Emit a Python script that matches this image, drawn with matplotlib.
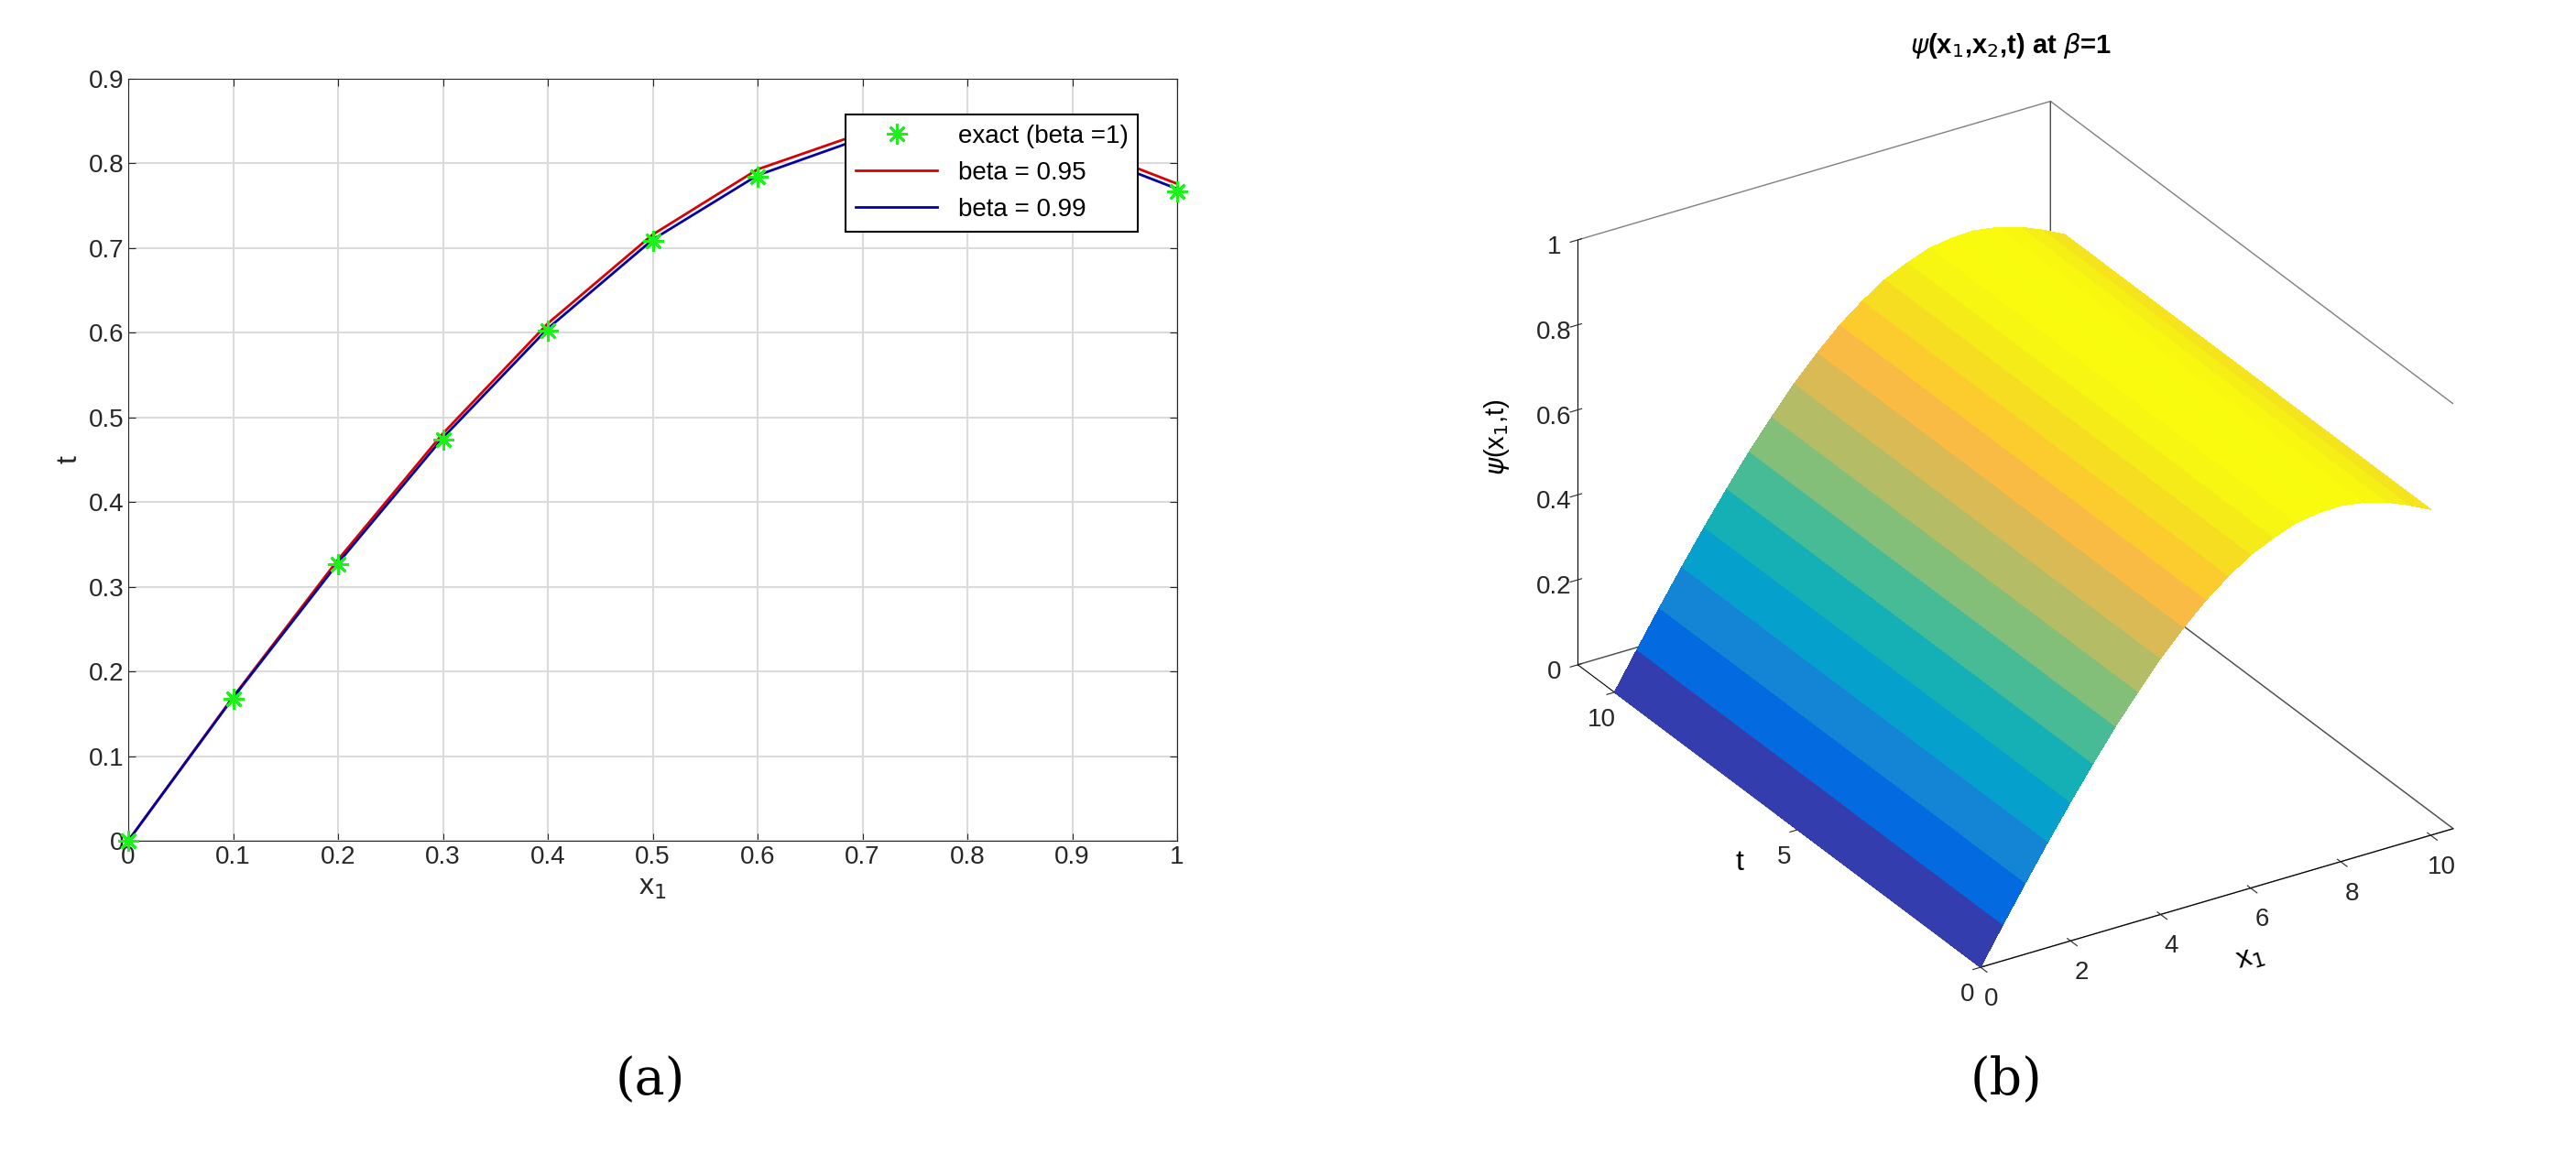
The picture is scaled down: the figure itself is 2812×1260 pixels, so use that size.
import numpy as np
import matplotlib
matplotlib.use("Agg")
import matplotlib.pyplot as plt
from matplotlib.colors import LinearSegmentedColormap

plt.rcParams['font.family'] = ['Liberation Sans', 'DejaVu Sans']

# ---- data ----
x1 = [0, 0.1, 0.2, 0.3, 0.4, 0.5, 0.6, 0.7, 0.8, 0.9, 1.0]
exact = [0, 0.168, 0.327, 0.474, 0.603, 0.708, 0.784, 0.828, 0.838, 0.815, 0.767]
beta095 = [0, 0.170, 0.332, 0.481, 0.611, 0.716, 0.793, 0.836, 0.846, 0.824, 0.776]
beta099 = [0, 0.169, 0.328, 0.476, 0.605, 0.710, 0.786, 0.830, 0.840, 0.818, 0.770]
# surface profile psi(x1) read at half-steps (independent of t)
x1_surf = [0, 0.5, 1, 1.5, 2, 2.5, 3, 3.5, 4, 4.5, 5, 5.5, 6, 6.5, 7, 7.5, 8, 8.5, 9, 9.5, 10]
psi_surf = [0, 0.085, 0.168, 0.249, 0.327, 0.402, 0.474, 0.540, 0.603, 0.658, 0.708,
            0.749, 0.784, 0.808, 0.828, 0.836, 0.838, 0.830, 0.815, 0.793, 0.767]
t_surf = [0, 2, 4, 6, 8, 10]
left_xticks = [0, 0.1, 0.2, 0.3, 0.4, 0.5, 0.6, 0.7, 0.8, 0.9, 1]
left_yticks = [0, 0.1, 0.2, 0.3, 0.4, 0.5, 0.6, 0.7, 0.8, 0.9]

parula = LinearSegmentedColormap.from_list("parula", [
    (0.2081, 0.1663, 0.5292), (0.2123, 0.2138, 0.6270), (0.1959, 0.2645, 0.7279),
    (0.1253, 0.3242, 0.8303), (0.0117, 0.3875, 0.8820), (0.0165, 0.4266, 0.8786),
    (0.0498, 0.4586, 0.8641), (0.0723, 0.4887, 0.8467), (0.0793, 0.5200, 0.8312),
    (0.0641, 0.5570, 0.8240), (0.0343, 0.5966, 0.8199), (0.0239, 0.6287, 0.8038),
    (0.0228, 0.6535, 0.7768), (0.0384, 0.6743, 0.7436), (0.0843, 0.6928, 0.7062),
    (0.1453, 0.7098, 0.6646), (0.2178, 0.7250, 0.6193), (0.3022, 0.7376, 0.5712),
    (0.3953, 0.7459, 0.5244), (0.4871, 0.7491, 0.4840), (0.5709, 0.7485, 0.4494),
    (0.6473, 0.7456, 0.4188), (0.7184, 0.7411, 0.3905), (0.7858, 0.7356, 0.3633),
    (0.8507, 0.7299, 0.3360), (0.9139, 0.7258, 0.3063), (0.9739, 0.7314, 0.2666),
    (0.9990, 0.7653, 0.2164), (0.9880, 0.8066, 0.1794), (0.9697, 0.8481, 0.1475),
    (0.9589, 0.8949, 0.1132), (0.9661, 0.9514, 0.0755), (0.9763, 0.9831, 0.0538)])

fig = plt.figure(figsize=(28.12, 12.6), dpi=100)
fig.patch.set_facecolor("white")
dark = (0.15, 0.15, 0.15)

# ---- left panel ----
ax = fig.add_axes([140/2812, 1 - 918/1260, 1145/2812, 832/1260])
ax.plot(x1, beta095, color=(0.85, 0, 0), lw=2, label="beta = 0.95", zorder=3)
ax.plot(x1, beta099, color=(0, 0, 0.65), lw=2, label="beta = 0.99", zorder=3)
ax.plot(x1, exact, ls="none", marker=(8, 2, 0), ms=16, mew=2, color=(0.1, 0.95, 0.1),
        label="exact (beta =1)", zorder=4, clip_on=False)
ax.set_xlim(0, 1)
ax.set_ylim(0, 0.9)
ax.set_xticks(left_xticks)
ax.set_xticklabels([f"{v:g}" for v in left_xticks])
ax.set_yticks(left_yticks)
ax.set_yticklabels([f"{v:g}" for v in left_yticks])
ax.grid(True, color=(0.86, 0.86, 0.86), lw=1.5)
ax.set_axisbelow(True)
ax.tick_params(labelsize=20, colors=dark, length=6, direction="in", top=True, right=True)
for s in ax.spines.values():
    s.set_color(dark)
ax.set_xlabel("x$_1$", fontsize=23, color=dark)
ax.set_ylabel("t", fontsize=23, color=dark)
h, l = ax.get_legend_handles_labels()
leg = ax.legend([h[2], h[0], h[1]], [l[2], l[0], l[1]], loc="upper right",
                bbox_to_anchor=(0.975, 0.97), fontsize=20, fancybox=False,
                framealpha=1, edgecolor="black", borderpad=0.4, handlelength=3.2)
leg.get_frame().set_linewidth(1.5)
leg.set_zorder(10)

# ---- right panel ----
X, T = np.meshgrid(x1_surf, t_surf)
Z = np.tile(np.array(psi_surf), (len(t_surf), 1))
ax3 = fig.add_axes([1560/2812, 0.08, 1250/2812, 0.89], projection="3d")
ax3.set_proj_type("ortho")
ax3.plot_surface(X, T, Z, cmap=parula, vmin=0, vmax=max(psi_surf), rstride=1, cstride=1,
                 linewidth=0, antialiased=False, shade=False)
ax3.set_xlim(0, 10.5)
ax3.set_ylim(0, 11)
ax3.set_zlim(0, 1)
ax3.set_box_aspect((1.1, 1.5, 0.95), zoom=1.0)
ax3.view_init(elev=28, azim=-122)
ax3.set_xticks([0, 2, 4, 6, 8, 10])
ax3.set_yticks([0, 5, 10])
ax3.set_zticks([0, 0.2, 0.4, 0.6, 0.8, 1])
ax3.set_zticklabels(["0", "0.2", "0.4", "0.6", "0.8", "1"])
for a in (ax3.xaxis, ax3.yaxis, ax3.zaxis):
    a.pane.set_facecolor("white")
    a.pane.set_edgecolor("black")
    a._axinfo["grid"]["linewidth"] = 0
    a.line.set_color("black")
ax3.grid(False)
ax3.tick_params(labelsize=20, colors=dark)
ax3.set_xlabel("x$_1$", fontsize=23, labelpad=14)
ax3.set_ylabel("t", fontsize=23, labelpad=14)
ax3.zaxis.set_rotate_label(False)
ax3.set_zlabel(r"$\psi$(x$_1$,t)", fontsize=21, labelpad=18, rotation=90)
fig.text(0.7805, 1 - 50/1260, r"$\psi$(x$_1$,x$_2$,t) at $\beta$=1", fontsize=21,
         fontweight="bold", ha="center", va="center")

# ---- panel captions ----
fig.text(710/2812, 1 - 1180/1260, "(a)", fontsize=40, family="DejaVu Serif", ha="center", va="center")
fig.text(2190/2812, 1 - 1180/1260, "(b)", fontsize=40, family="DejaVu Serif", ha="center", va="center")

fig.savefig("out.png", dpi=100)
